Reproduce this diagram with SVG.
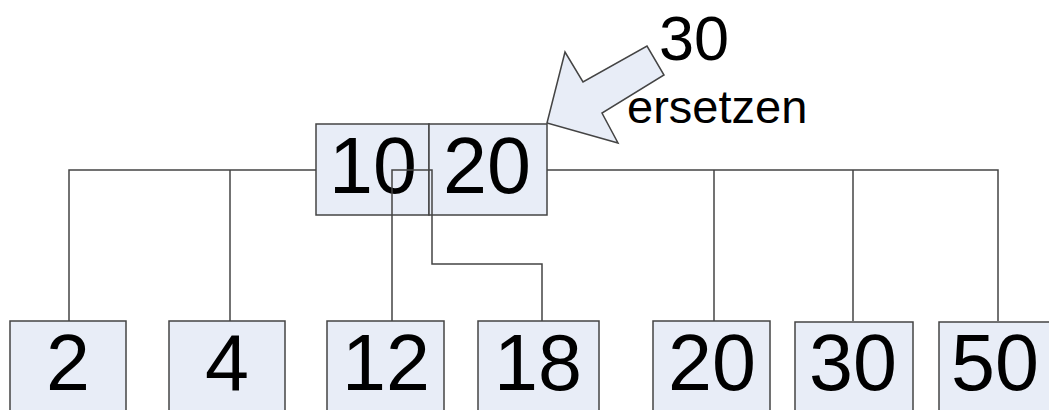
<svg xmlns="http://www.w3.org/2000/svg" width="1049" height="410" viewBox="0 0 1049 410">
<style>
.box{fill:#e8edf7;stroke:#444;stroke-width:1.5}
.line{fill:none;stroke:#444;stroke-width:1.5}
.num{font-family:"Liberation Sans",Arial,sans-serif;font-size:79px;fill:#000;text-anchor:middle}
.lbl{font-family:"Liberation Sans",Arial,sans-serif;fill:#000}
</style>
<rect width="1049" height="410" fill="#fff"/>
<g id="connectors">
<polyline class="line" points="316,170 69,170 69,321"/>
<line class="line" x1="230" y1="170" x2="230" y2="321"/>
<polyline class="line" points="392,321 392,170 432,170 432,264 542,264 542,321"/>
<polyline class="line" points="547,170 998,170 998,321"/>
<line class="line" x1="714" y1="170" x2="714" y2="321"/>
<line class="line" x1="853" y1="170" x2="853" y2="321"/>
</g>
<g id="root-10">
<rect class="box" x="316" y="124" width="113" height="91"/>
<text class="num" x="373" y="193">10</text>
</g>
<g id="root-20">
<rect class="box" x="429" y="124" width="118" height="91"/>
<text class="num" x="487" y="193">20</text>
</g>
<g id="connectors-overlay">
<polyline class="line" points="392,215 392,170 432,170 432,215"/>
</g>
<g id="leaf-2"><rect class="box" x="10" y="321" width="116" height="100"/><text class="num" x="68" y="390">2</text></g>
<g id="leaf-4"><rect class="box" x="169" y="321" width="116" height="100"/><text class="num" x="227" y="390">4</text></g>
<g id="leaf-12"><rect class="box" x="327" y="321" width="117" height="100"/><text class="num" x="386" y="390">12</text></g>
<g id="leaf-18"><rect class="box" x="478" y="321" width="121" height="100"/><text class="num" x="538" y="390">18</text></g>
<g id="leaf-20"><rect class="box" x="653" y="321" width="117" height="100"/><text class="num" x="712" y="390">20</text></g>
<g id="leaf-30"><rect class="box" x="795" y="322" width="118" height="100"/><text class="num" x="853" y="390">30</text></g>
<g id="leaf-50"><rect class="box" x="939" y="322" width="118" height="100"/><text class="num" x="995" y="390">50</text></g>
<g id="arrow">
<polygon class="box" points="547,123 565,52 583,82 647,46 664,75 602,113 618,143"/>
</g>
<g id="labels">
<text class="lbl" x="694" y="60" font-size="63" text-anchor="middle">30</text>
<text class="lbl" x="627" y="123" font-size="47">ersetzen</text>
</g>
</svg>
